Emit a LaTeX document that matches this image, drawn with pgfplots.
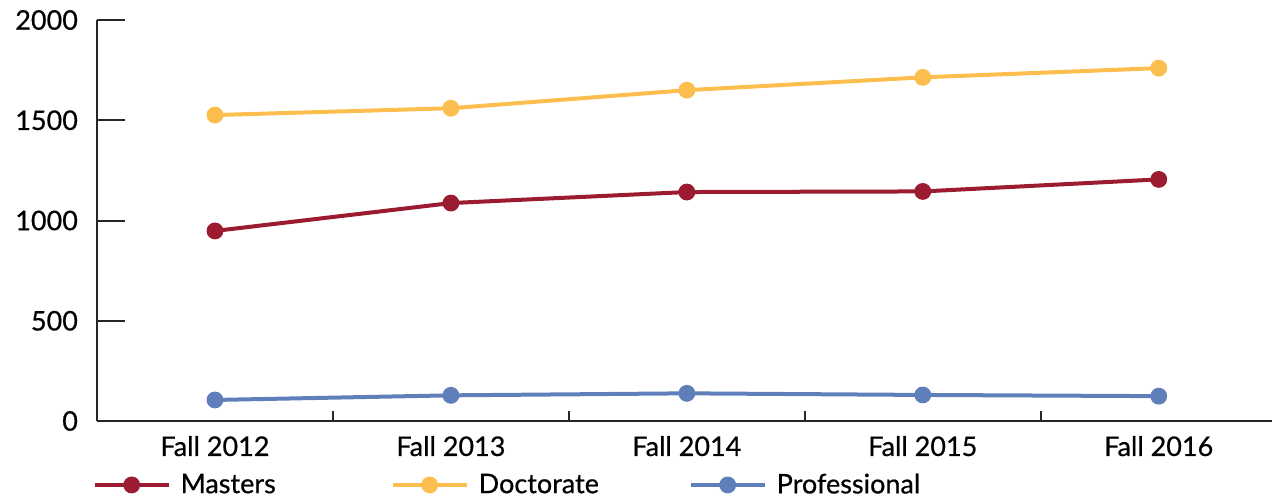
\documentclass[border=0pt]{standalone}
\usepackage{pgfplots}
\pgfplotsset{compat=1.18}
\usepackage{fontspec}
\setmainfont{Lato}[UprightFeatures={FakeBold=0.6}]

\definecolor{masters}{HTML}{9B1B30}
\definecolor{doctorate}{HTML}{FDBE50}
\definecolor{professional}{HTML}{5F7FBA}

\begin{document}
\begin{tikzpicture}
\useasboundingbox (-48.5pt,-39pt) rectangle (587.5pt,210.5pt);
\begin{axis}[
    at={(0pt,0pt)}, anchor=south west,
    scale only axis,
    width=587.5pt, height=200.5pt,
    xmin=-0.5, xmax=4.48,
    ymin=0, ymax=2000,
    axis lines*=left,
    axis line style={line width=1pt, black!85},
    tick align=inside,
    major tick length=5pt,
    tick style={line width=1pt, black!85},
    font=\fontsize{13.5}{15}\selectfont,
    /pgf/number format/assume math mode=true,
    /pgf/number format/1000 sep={},
    xtick={0.5,1.5,2.5,3.5},
    xticklabels={},
    extra x ticks={0,1,2,3,4},
    extra x tick labels={Fall 2012,Fall 2013,Fall 2014,Fall 2015,Fall 2016},
    extra x tick style={major tick length=0pt, tick label style={yshift=-4pt}},
    ytick=\empty,
    extra y ticks={0,500,1000,1500,2000},
    extra y tick style={major tick length=14pt, tick label style={xshift=-6pt}},
    legend columns=3,
    legend cell align=left,
    legend style={at={(-0.004,-0.12)}, anchor=north west, draw=none, fill=none,
        inner sep=0pt, font=\fontsize{13.5}{15}\selectfont,
        nodes={text width=100pt, inner xsep=5pt},
        /tikz/every even column/.append style={column sep=0pt}},
    legend image code/.code={
        \draw[mark repeat=2, mark phase=2, #1]
            plot coordinates {(0pt,0pt) (18.5pt,0pt) (37pt,0pt)};
    },
    every axis plot/.append style={line width=2pt, mark=*, mark size=3.2pt},
]
\addplot[color=masters, mark options={fill=masters}] coordinates {
    (0,948) (1,1087) (2,1142) (3,1145) (4,1205)
};
\addplot[color=doctorate, mark options={fill=doctorate}] coordinates {
    (0,1526) (1,1560) (2,1650) (3,1714) (4,1760)
};
\addplot[color=professional, mark options={fill=professional}] coordinates {
    (0,105) (1,128) (2,138) (3,130) (4,124)
};
\legend{Masters,Doctorate,Professional}
\end{axis}
\end{tikzpicture}
\end{document}
